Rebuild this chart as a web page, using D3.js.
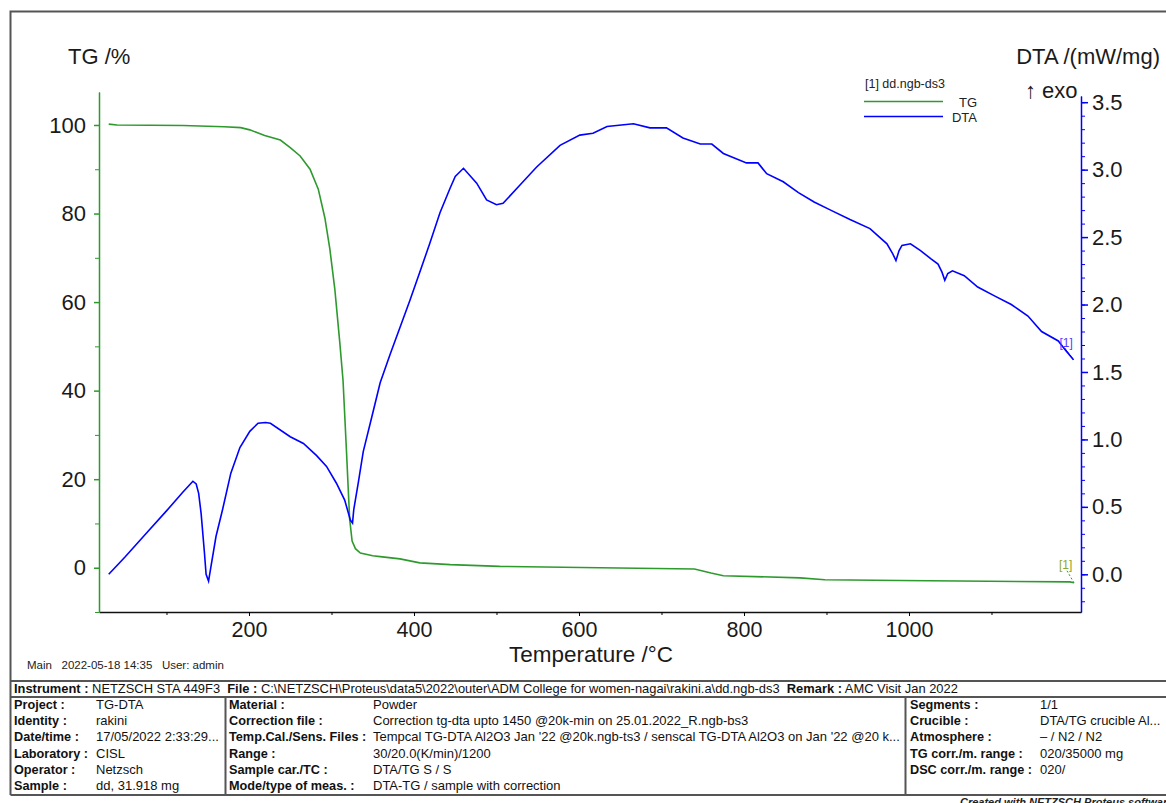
<!DOCTYPE html>
<html>
<head>
<meta charset="utf-8">
<script src="https://cdn.jsdelivr.net/npm/d3@7"></script>
<style>
  body { margin: 0; background: #fff; }
  text { font-family: "Liberation Sans", Arial, sans-serif; }
</style>
</head>
<body>
<div id="chart"></div>
<script>
// TG curve (temperature in °C, mass in %)
var tgTemp = [30, 40, 120, 170, 190, 201, 219, 238, 250, 262, 274, 284, 292, 298, 304, 310, 314, 318, 322, 325, 329, 335, 350, 359, 383, 407, 444, 504, 625, 740, 760, 775, 868, 898, 989, 1195, 1200];
var tgValues = [100.2, 100.0, 99.9, 99.6, 99.4, 98.9, 97.6, 96.6, 94.9, 93.0, 90.0, 85.5, 79, 72, 63, 51, 42.3, 27, 11, 6, 4.3, 3.3, 2.7, 2.5, 2.0, 1.1, 0.7, 0.3, 0.0, -0.3, -1.2, -1.8, -2.3, -2.7, -2.9, -3.2, -3.4];

// DTA curve (temperature in °C, mW/mg)
var dtaTemp = [30, 50, 75, 100, 120, 132, 136, 139, 142, 146, 148, 151, 154, 160, 168, 178, 189, 201, 211, 220, 226, 250, 266, 282, 294, 306, 316, 323, 325.5, 327, 332.5, 338.5, 349, 359, 371, 383, 395, 407, 419, 431.5, 443.6, 450, 460, 476, 488, 500, 508, 528.5, 548.7, 577, 601, 617, 634, 666, 686, 706, 726, 747, 761, 775, 803, 817, 827.5, 847.6, 866, 885, 905, 928.5, 952.7, 973.3, 980, 984.2, 988, 991.5, 1001.8, 1014, 1026.3, 1035.2, 1040, 1043.4, 1047, 1052.7, 1067, 1083.3, 1103.6, 1124, 1144.2, 1160.7, 1181, 1189, 1199.4];
var dtaValues = [0.0, 0.13, 0.30, 0.47, 0.61, 0.69, 0.67, 0.60, 0.45, 0.16, 0.0, -0.05, 0.06, 0.28, 0.48, 0.75, 0.94, 1.06, 1.12, 1.125, 1.12, 1.02, 0.97, 0.88, 0.80, 0.675, 0.55, 0.40, 0.38, 0.48, 0.68, 0.91, 1.17, 1.42, 1.63, 1.83, 2.03, 2.24, 2.45, 2.68, 2.86, 2.95, 3.01, 2.90, 2.775, 2.74, 2.75, 2.886, 3.02, 3.18, 3.256, 3.27, 3.32, 3.34, 3.31, 3.31, 3.235, 3.19, 3.19, 3.12, 3.05, 3.05, 2.97, 2.91, 2.83, 2.76, 2.70, 2.63, 2.563, 2.45, 2.38, 2.326, 2.40, 2.438, 2.45, 2.40, 2.34, 2.30, 2.24, 2.18, 2.23, 2.25, 2.214, 2.13, 2.064, 2.00, 1.915, 1.80, 1.73, 1.666, 1.59];

// axis ticks
var xTicks = [200, 400, 600, 800, 1000];
var xMinorTicks = [100, 300, 500, 700, 900, 1100];
var tgTicks = [0, 20, 40, 60, 80, 100];
var tgMinorTicks = [-10, 10, 30, 50, 70, 90];
var dtaTicks = [0.0, 0.5, 1.0, 1.5, 2.0, 2.5, 3.0, 3.5];
var dtaMinorTicks = d3.range(-2, 36).map(function(d) { return d / 10; });

// info table text
var instrumentRow = [
  ['Instrument :', true], [' NETZSCH STA 449F3  ', false],
  ['File :', true], [' C:\\NETZSCH\\Proteus\\data5\\2022\\outer\\ADM College for women-nagai\\rakini.a\\dd.ngb-ds3  ', false],
  ['Remark :', true], [' AMC Visit Jan 2022', false]
];
var leftLabels = ['Project :', 'Identity :', 'Date/time :', 'Laboratory :', 'Operator :', 'Sample :'];
var leftValues = ['TG-DTA', 'rakini', '17/05/2022 2:33:29...', 'CISL', 'Netzsch', 'dd, 31.918 mg'];
var midLabels = ['Material :', 'Correction file :', 'Temp.Cal./Sens. Files :', 'Range :', 'Sample car./TC :', 'Mode/type of meas. :'];
var midValues = ['Powder', 'Correction tg-dta upto 1450 @20k-min on 25.01.2022_R.ngb-bs3',
  "Tempcal TG-DTA Al2O3 Jan '22 @20k.ngb-ts3 / senscal TG-DTA Al2O3 on Jan '22 @20 k...",
  '30/20.0(K/min)/1200', 'DTA/TG S / S', 'DTA-TG / sample with correction'];
var rightLabels = ['Segments :', 'Crucible :', 'Atmosphere :', 'TG corr./m. range :', 'DSC corr./m. range :'];
var rightValues = ['1/1', 'DTA/TG crucible Al...', '\u2013 / N2 / N2', '020/35000 mg', '020/'];

var width = 1166;
var height = 803;
var green = '#2e9a2e';
var blue = '#0000ff';
var fontFamily = '"Liberation Sans", Arial, sans-serif';

var svg = d3.select('#chart')
  .append('svg')
  .attr('width', width)
  .attr('height', height);

svg.append('rect').attr('width', width).attr('height', height).attr('fill', '#fff');

// outer frame
svg.append('path')
  .attr('d', 'M1170,11.5H10.5V795')
  .attr('fill', 'none')
  .attr('stroke', '#555')
  .attr('stroke-width', 2);

// plot area
var plotLeft = 99, plotRight = 1081, plotTop = 92, plotBottom = 612;

var x = d3.scaleLinear().domain([18.2, 1208.5]).range([plotLeft, plotRight]);
var yTg = d3.scaleLinear().domain([-10, 107.45]).range([plotBottom, plotTop]);
var yDta = d3.scaleLinear().domain([-0.2795, 3.546]).range([plotBottom, 96]);

// bottom axis
var xAxis = svg.append('g')
  .attr('transform', 'translate(0,' + plotBottom + ')')
  .call(d3.axisBottom(x).tickValues(xTicks).tickFormat(d3.format('d')).tickSize(4).tickPadding(6).tickSizeOuter(0));
svg.append('g')
  .attr('transform', 'translate(0,' + plotBottom + ')')
  .call(d3.axisBottom(x).tickValues(xMinorTicks).tickSize(3).tickFormat('').tickSizeOuter(0))
  .select('.domain').remove();
xAxis.select('.domain').attr('stroke', '#111').attr('stroke-width', 1.5);
xAxis.selectAll('text').attr('font-size', 21.5).attr('fill', '#1a1a1a').style('font-family', fontFamily);

// TG axis (left)
var tgAxis = svg.append('g')
  .attr('transform', 'translate(' + plotLeft + ',0)')
  .call(d3.axisLeft(yTg).tickValues(tgTicks).tickSize(5).tickPadding(8).tickSizeOuter(0));
svg.append('g')
  .attr('transform', 'translate(' + plotLeft + ',0)')
  .call(d3.axisLeft(yTg).tickValues(tgMinorTicks).tickSize(4).tickFormat('').tickSizeOuter(0))
  .selectAll('line, path').attr('stroke', green);
tgAxis.selectAll('line, path').attr('stroke', green).attr('stroke-width', 1.5);
tgAxis.selectAll('text').attr('font-size', 22).attr('fill', '#1a1a1a').style('font-family', fontFamily);

// DTA axis (right)
var dtaAxis = svg.append('g')
  .attr('transform', 'translate(' + plotRight + ',0)')
  .call(d3.axisRight(yDta).tickValues(dtaTicks).tickSize(7).tickPadding(4).tickFormat(d3.format('.1f')).tickSizeOuter(0));
svg.append('g')
  .attr('transform', 'translate(' + plotRight + ',0)')
  .call(d3.axisRight(yDta).tickValues(dtaMinorTicks).tickSize(4).tickFormat('').tickSizeOuter(0))
  .selectAll('line, path').attr('stroke', blue);
dtaAxis.selectAll('line, path').attr('stroke', blue).attr('stroke-width', 1.5);
dtaAxis.selectAll('text').attr('font-size', 22).attr('fill', '#1a1a1a').style('font-family', fontFamily);

// axis titles
svg.append('text').attr('x', 68).attr('y', 64).attr('font-size', 22).attr('fill', '#1a1a1a').text('TG /%');
svg.append('text').attr('x', 1160).attr('y', 64).attr('font-size', 22).attr('fill', '#1a1a1a')
  .attr('text-anchor', 'end').text('DTA /(mW/mg)');
svg.append('text').attr('x', 1025).attr('y', 98).attr('font-size', 22).attr('fill', '#1a1a1a').text('\u2191 exo');
svg.append('text').attr('x', 591).attr('y', 662).attr('font-size', 22.5).attr('fill', '#1a1a1a')
  .attr('text-anchor', 'middle').text('Temperature /\u00b0C');

// curves
var tgData = tgTemp.map(function(t, i) { return [t, tgValues[i]]; });
var dtaData = dtaTemp.map(function(t, i) { return [t, dtaValues[i]]; });

svg.append('path')
  .datum(tgData)
  .attr('fill', 'none')
  .attr('stroke', green)
  .attr('stroke-width', 1.6)
  .attr('d', d3.line().x(function(d) { return x(d[0]); }).y(function(d) { return yTg(d[1]); }));

svg.append('path')
  .datum(dtaData)
  .attr('fill', 'none')
  .attr('stroke', blue)
  .attr('stroke-width', 1.6)
  .attr('d', d3.line().x(function(d) { return x(d[0]); }).y(function(d) { return yDta(d[1]); }));

// curve end markers
var tgEnd = tgData[tgData.length - 1];
var dtaEnd = dtaData[dtaData.length - 1];
svg.append('line')
  .attr('x1', x(tgEnd[0]) - 7).attr('y1', yTg(tgEnd[1]) - 12)
  .attr('x2', x(tgEnd[0])).attr('y2', yTg(tgEnd[1]))
  .attr('stroke', green).attr('stroke-dasharray', '2,2');
svg.append('text')
  .attr('x', x(tgEnd[0]) - 15).attr('y', yTg(tgEnd[1]) - 14)
  .attr('font-size', 12).attr('fill', '#8ea62a').text('[1]');
svg.append('line')
  .attr('x1', x(dtaEnd[0]) - 9).attr('y1', yDta(dtaEnd[1]) - 12)
  .attr('x2', x(dtaEnd[0])).attr('y2', yDta(dtaEnd[1]))
  .attr('stroke', blue);
svg.append('text')
  .attr('x', x(dtaEnd[0]) - 14).attr('y', yDta(dtaEnd[1]) - 13)
  .attr('font-size', 12).attr('fill', '#5a3cff').text('[1]');

// legend
svg.append('text').attr('x', 865).attr('y', 88).attr('font-size', 12.5).attr('fill', '#222').text('[1] dd.ngb-ds3');
var legend = svg.selectAll('.legend')
  .data([['TG', green], ['DTA', blue]])
  .enter().append('g')
  .attr('class', 'legend')
  .attr('transform', function(d, i) { return 'translate(0,' + (101.5 + i * 15) + ')'; });
legend.append('line')
  .attr('x1', 864).attr('x2', 943)
  .attr('stroke', function(d) { return d[1]; })
  .attr('stroke-width', 1.3);
legend.append('text')
  .attr('x', 977).attr('y', 5)
  .attr('text-anchor', 'end')
  .attr('font-size', 13)
  .attr('fill', '#222')
  .text(function(d) { return d[0]; });

// footer line
svg.append('text').attr('x', 27).attr('y', 669).attr('font-size', 11.5).attr('fill', '#222')
  .attr('xml:space', 'preserve').text('Main   2022-05-18 14:35   User: admin');

// info table
var table = svg.append('g');
table.append('path')
  .attr('d', 'M10.5,681H1170M10.5,697H1170M10.5,795H1170M225.5,697V795M905.5,697V795')
  .attr('stroke', '#555').attr('stroke-width', 2).attr('fill', 'none');

var instText = table.append('text').attr('x', 14).attr('y', 693).attr('font-size', 12.9).attr('fill', '#111')
  .attr('xml:space', 'preserve');
instText.selectAll('tspan')
  .data(instrumentRow)
  .enter().append('tspan')
  .attr('font-weight', function(d) { return d[1] ? 'bold' : 'normal'; })
  .text(function(d) { return d[0]; });

function column(labels, values, lx, vx) {
  var g = table.append('g');
  g.selectAll('.lab')
    .data(labels)
    .enter().append('text')
    .attr('x', lx)
    .attr('y', function(d, i) { return 709 + i * 16.2; })
    .attr('font-size', 12.7).attr('font-weight', 'bold').attr('fill', '#111')
    .text(function(d) { return d; });
  g.selectAll('.val')
    .data(values)
    .enter().append('text')
    .attr('x', vx)
    .attr('y', function(d, i) { return 709 + i * 16.2; })
    .attr('font-size', 13).attr('fill', '#111')
    .text(function(d) { return d; });
}
column(leftLabels, leftValues, 14, 96);
column(midLabels, midValues, 229, 373);
column(rightLabels, rightValues, 910, 1040);

svg.append('text').attr('x', 960).attr('y', 806).attr('font-size', 11).attr('font-style', 'italic')
  .attr('font-weight', 'bold').attr('fill', '#222').text('Created with NETZSCH Proteus software');
</script>
</body>
</html>
